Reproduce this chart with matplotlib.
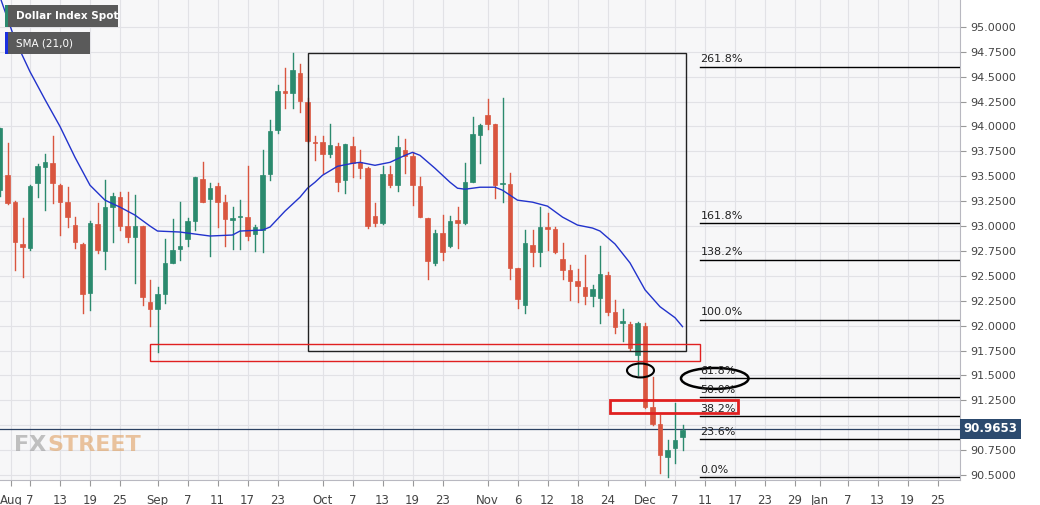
import matplotlib.pyplot as plt
from matplotlib.patches import Rectangle, Ellipse

# trading-day index: 0 = Aug 7
idx = list(range(-4, 88))
opens = [93.36, 93.51, 93.24, 92.82, 92.78, 93.43, 93.59, 93.63, 93.41, 93.24, 93.01, 92.82,
         92.33, 93.02, 92.75, 93.19, 93.29, 93.00, 92.89, 93.00, 92.24, 92.17, 92.32, 92.63,
         92.77, 92.87, 93.05, 93.47, 93.27, 93.40, 93.24, 93.06, 93.09, 93.09, 92.92, 92.96,
         93.52, 93.96, 94.36, 94.34, 94.54, 94.25, 93.84, 93.84, 93.72, 93.80, 93.46, 93.80,
         93.64, 93.58, 93.10, 93.03, 93.52, 93.41, 93.76, 93.70, 93.40, 93.08, 92.63, 92.93,
         92.80, 93.06, 93.03, 93.44, 93.91, 94.12, 94.02, 93.42, 93.42, 92.58, 92.21, 92.81,
         92.74, 92.99, 92.97, 92.67, 92.56, 92.45, 92.39, 92.30, 92.28, 92.51, 92.14, 92.03,
         92.02, 91.71, 92.00, 91.18, 91.01, 90.68, 90.77, 90.88]
closes = [93.98, 93.23, 92.84, 92.79, 93.40, 93.60, 93.64, 93.43, 93.24, 93.09, 92.84, 92.32,
          93.03, 92.76, 93.19, 93.30, 93.00, 92.89, 93.00, 92.29, 92.17, 92.32, 92.63, 92.76,
          92.80, 93.05, 93.49, 93.24, 93.38, 93.24, 93.07, 93.08, 93.10, 92.90, 92.99, 93.51,
          93.95, 94.36, 94.34, 94.57, 94.26, 93.85, 93.83, 93.72, 93.81, 93.44, 93.82, 93.63,
          93.58, 93.00, 93.03, 93.52, 93.41, 93.79, 93.70, 93.41, 93.09, 92.65, 92.93, 92.74,
          93.05, 93.03, 93.44, 93.92, 94.01, 94.02, 93.41, 93.43, 92.58, 92.27, 92.83, 92.74,
          92.99, 92.97, 92.74, 92.56, 92.45, 92.40, 92.30, 92.37, 92.52, 92.14, 91.99, 92.03,
          91.78, 92.03, 91.18, 91.01, 90.70, 90.75, 90.85, 90.95]
highs = [93.98, 93.83, 93.25, 93.08, 93.41, 93.62, 93.72, 93.90, 93.42, 93.39, 93.09, 92.83,
         93.05, 93.23, 93.46, 93.33, 93.34, 93.34, 93.31, 93.00, 92.46, 92.39, 92.87, 93.07,
         93.24, 93.08, 93.49, 93.64, 93.43, 93.43, 93.31, 93.19, 93.26, 93.60, 93.01, 93.76,
         94.07, 94.42, 94.59, 94.74, 94.63, 94.29, 93.90, 93.90, 94.02, 93.83, 93.82, 93.89,
         93.76, 93.59, 93.23, 93.60, 93.60, 93.90, 93.87, 93.74, 93.49, 93.08, 92.96, 93.11,
         93.10, 93.19, 93.63, 94.10, 94.02, 94.28, 94.02, 94.29, 93.53, 92.58, 92.96, 92.96,
         93.19, 93.13, 92.99, 92.83, 92.61, 92.57, 92.71, 92.41, 92.80, 92.54, 92.26, 92.17,
         92.04, 92.04, 92.03, 91.48, 91.10, 90.85, 91.22, 91.00]
lows = [93.30, 93.22, 92.56, 92.49, 92.76, 93.29, 93.16, 93.23, 92.91, 92.99, 92.78, 92.13,
        92.16, 92.73, 92.57, 92.84, 92.96, 92.84, 92.43, 92.21, 92.00, 91.74, 92.23, 92.63,
        92.66, 92.80, 92.96, 93.24, 92.70, 92.99, 92.80, 92.77, 92.77, 92.86, 92.75, 92.74,
        93.46, 93.93, 94.19, 94.19, 94.15, 93.84, 93.66, 93.53, 93.69, 93.35, 93.33, 93.49,
        93.48, 92.98, 93.00, 93.02, 93.39, 93.35, 93.53, 93.21, 93.09, 92.47, 92.61, 92.66,
        92.79, 92.78, 93.02, 93.44, 93.63, 93.97, 93.28, 93.24, 92.47, 92.18, 92.13, 92.60,
        92.60, 92.76, 92.73, 92.47, 92.26, 92.24, 92.22, 92.20, 92.03, 92.11, 91.93, 91.85,
        91.76, 91.50, 91.17, 91.00, 90.52, 90.48, 90.62, 90.75]

sma_x = [-4, -2, 0, 2, 4, 6, 8, 10, 12, 14, 16, 17, 20, 22, 24, 27, 28, 31, 32, 34, 36, 37,
         38, 39, 41, 43, 44, 46, 48, 50, 51, 52, 54, 56, 57, 58, 60, 62, 63, 64, 65, 67, 69,
         71, 73, 75, 76, 78, 80, 82, 84, 86, 87]
sma_y = [95.30, 94.87, 94.55, 94.27, 94.00, 93.69, 93.41, 93.26, 93.19, 93.11, 93.00, 92.95,
         92.94, 92.92, 92.90, 92.91, 92.95, 92.96, 92.99, 93.15, 93.29, 93.38, 93.44, 93.51,
         93.60, 93.63, 93.64, 93.61, 93.64, 93.71, 93.74, 93.71, 93.58, 93.44, 93.38, 93.37,
         93.39, 93.39, 93.36, 93.31, 93.26, 93.24, 93.20, 93.09, 93.01, 92.98, 92.95, 92.82,
         92.63, 92.36, 92.19, 92.08, 91.99]

fib_labels = ['261.8%', '161.8%', '138.2%', '100.0%', '61.8%', '50.0%', '38.2%', '23.6%', '0.0%']
fib_levels = [94.60, 93.03, 92.66, 92.06, 91.47, 91.28, 91.09, 90.86, 90.48]

tick_pos = [-2.5, 0, 4, 8, 12, 17, 21, 25, 29, 33, 39, 43, 47, 51, 55, 61, 65, 69, 73, 77, 82,
            86, 90, 94, 98, 102, 105.3, 109, 113, 117, 121]
tick_lbl = ['Aug', '7', '13', '19', '25', 'Sep', '7', '11', '17', '23', 'Oct', '7', '13', '19',
            '23', 'Nov', '6', '12', '18', '24', 'Dec', '7', '11', '17', '23', '29', 'Jan', '7',
            '13', '19', '25']
last_price = 90.9653

green = '#2b8a6e'
red = '#d9553f'

fig = plt.figure(figsize=(10.4, 5.05), dpi=100)
fig.patch.set_facecolor('white')
ax = fig.add_axes([0, 25 / 505, 960 / 1040, 480 / 505])
ax.set_facecolor('#f7f7f8')
ax.set_xlim(-4, 124)
ax.set_ylim(90.45, 95.27)

yt = [90.5 + 0.25 * i for i in range(19)]
ax.set_yticks(yt)
# the 91.0000 label is hidden behind the last-price tag in the reference
ax.set_yticklabels(['' if abs(v - 91.0) < 1e-9 else f'{v:.4f}' for v in yt],
                   fontsize=8, color='#444')
ax.yaxis.tick_right()
ax.set_xticks(tick_pos)
ax.set_xticklabels(tick_lbl, fontsize=8.5, color='#444')
ax.xaxis.set_tick_params(pad=6)
ax.tick_params(axis='both', length=4, color='#999')
ax.grid(True, color='#e2e2e6', linewidth=0.8)
for s in ['top', 'left']:
    ax.spines[s].set_visible(False)
for s in ['right', 'bottom']:
    ax.spines[s].set_color('#b8b8c0')

# candles
for i, o, c, h, l in zip(idx, opens, closes, highs, lows):
    col = green if c >= o else red
    ax.plot([i, i], [l, h], color=col, linewidth=1, zorder=3)
    lo, hi = min(o, c), max(o, c)
    ax.add_patch(Rectangle((i - 0.33, lo), 0.66, max(hi - lo, 0.015), facecolor=col,
                           edgecolor=col, linewidth=0.5, zorder=4))

ax.plot(sma_x, sma_y, color='#2233cc', linewidth=1, zorder=5)

# drawings
ax.add_patch(Rectangle((37, 91.75), 87.5 - 37, 94.74 - 91.75, fill=False, edgecolor='#222',
                       linewidth=1, zorder=6))
ax.add_patch(Rectangle((16, 91.64), 89.3 - 16, 0.18, fill=False, edgecolor='#e02020',
                       linewidth=1, zorder=6))
ax.add_patch(Rectangle((77.3, 91.12), 94.4 - 77.3, 0.13, fill=False, edgecolor='#e02020',
                       linewidth=2, zorder=6))
ax.add_patch(Ellipse((81.4, 91.55), 3.6, 0.14, fill=False, edgecolor='black', linewidth=1.5,
                     zorder=6))
ax.add_patch(Ellipse((91.3, 91.47), 9, 0.21, fill=False, edgecolor='black', linewidth=1.8,
                     zorder=6))

for lab, lv in zip(fib_labels, fib_levels):
    ax.plot([89.3, 124], [lv, lv], color='black', linewidth=1, zorder=6)
    ax.text(89.4, lv + 0.025, lab, fontsize=8, color='#222', va='bottom', ha='left', zorder=7)

ax.axhline(last_price, color='#2c4263', linewidth=0.9, zorder=2)
ax.text(1.004, last_price, f'{last_price:.4f}', transform=ax.get_yaxis_transform(),
        fontsize=8.5, fontweight='bold', color='white', va='center', ha='left',
        bbox=dict(boxstyle='square,pad=0.3', facecolor='#2c4a6e', edgecolor='none'),
        zorder=8, clip_on=False)

# header boxes
fig.patches.append(Rectangle((5 / 1040, 1 - 27 / 505), 113 / 1040, 22 / 505,
                             facecolor='#5a5a5a', transform=fig.transFigure, figure=fig))
fig.patches.append(Rectangle((5 / 1040, 1 - 54 / 505), 85 / 1040, 22 / 505,
                             facecolor='#5a5a5a', transform=fig.transFigure, figure=fig))
fig.patches.append(Rectangle((5 / 1040, 1 - 27 / 505), 3 / 1040, 22 / 505, facecolor=green,
                             transform=fig.transFigure, figure=fig))
fig.patches.append(Rectangle((5 / 1040, 1 - 54 / 505), 3 / 1040, 22 / 505, facecolor='#1a2fe0',
                             transform=fig.transFigure, figure=fig))
fig.text(16 / 1040, 1 - 16 / 505, 'Dollar Index Spot', fontsize=7.5, fontweight='bold',
         color='white', va='center', ha='left')
fig.text(16 / 1040, 1 - 43 / 505, 'SMA (21,0)', fontsize=7.5, color='white', va='center',
         ha='left')

# watermark
fig.text(14 / 1040, 1 - 445 / 505, 'FX', fontsize=16, fontweight='bold', color='#9a9a9a',
         alpha=0.6, va='center', ha='left')
fig.text(47 / 1040, 1 - 445 / 505, 'STREET', fontsize=16, fontweight='bold', color='#e0a060',
         alpha=0.6, va='center', ha='left')

fig.savefig('out.png', dpi=100)
